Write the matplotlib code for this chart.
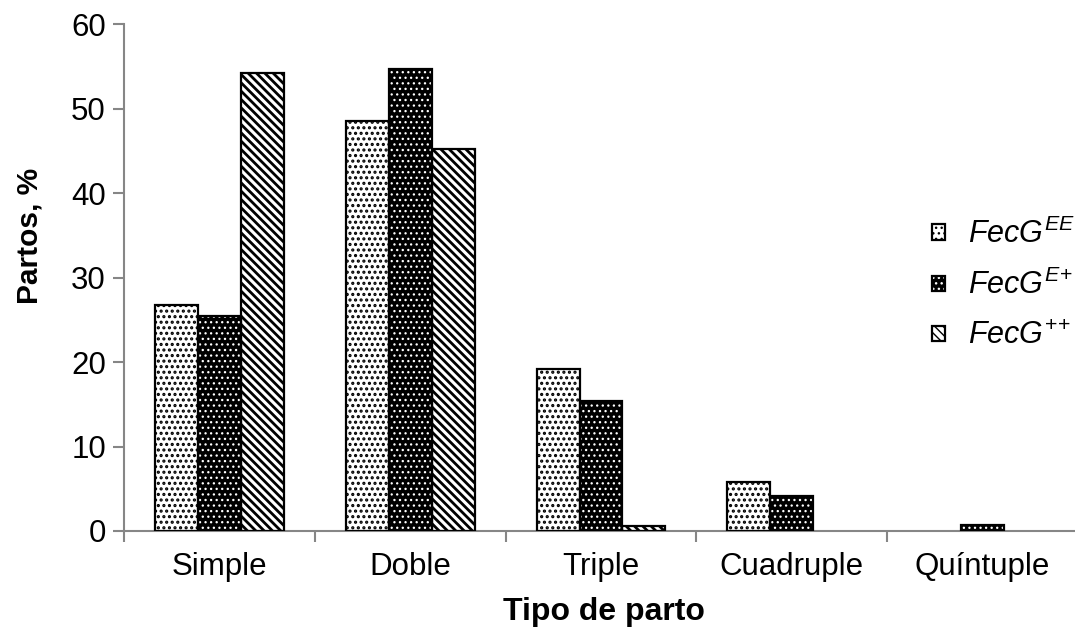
import matplotlib
matplotlib.use("Agg")
import matplotlib.pyplot as plt
import numpy as np

categories = ["Simple", "Doble", "Triple", "Cuadruple", "Quíntuple"]
series_labels = [r"$\mathit{FecG}^{\mathit{EE}}$", r"$\mathit{FecG}^{\mathit{E}\!+}$", r"$\mathit{FecG}^{+\!+}$"]
vals_EE = [26.7, 48.5, 19.2, 5.8, 0.0]
vals_Ep = [25.4, 54.7, 15.4, 4.1, 0.7]
vals_pp = [54.2, 45.2, 0.6, 0.0, 0.0]
y_ticks = [0, 10, 20, 30, 40, 50, 60]

plt.rcParams['font.family'] = ['Liberation Sans', 'DejaVu Sans']
plt.rcParams['mathtext.fontset'] = 'custom'
plt.rcParams['mathtext.rm'] = 'Liberation Sans'
plt.rcParams['mathtext.it'] = 'Liberation Sans:italic'
plt.rcParams['mathtext.bf'] = 'Liberation Sans:bold'

W, H = 1075, 632
fig = plt.figure(figsize=(W / 100, H / 100), dpi=100)
ax = fig.add_axes([124 / W, (H - 531) / H, 954 / W, 507 / H])

x = np.arange(len(categories))
bw = 0.225
gray = '#868686'

def hatched(xpos, vals, face, hcolor, hatch, hlw):
    with plt.rc_context({'hatch.linewidth': hlw}):
        b = ax.bar(xpos, vals, bw, color=face, edgecolor=hcolor, hatch=hatch, linewidth=0, zorder=2)
    for p in b:
        if hasattr(p, 'set_hatch_linewidth'):
            p.set_hatch_linewidth(hlw)
    o = ax.bar(xpos, vals, bw, fill=False, edgecolor='black', linewidth=1.6, zorder=3)
    for pb, po, v in zip(b, o, vals):
        if v == 0:
            pb.set_visible(False)
            po.set_visible(False)
    return b, o

h1 = hatched(x - bw, vals_EE, 'white', 'black', '...', 1.5)
h2 = hatched(x, vals_Ep, 'black', 'white', '...', 0.9)
h3 = hatched(x + bw, vals_pp, 'white', 'black', '\\\\\\\\', 2.0)

ax.set_xlim(-0.5, len(categories) - 0.5)
ax.set_ylim(0, 60)
ax.set_yticks(y_ticks)
ax.set_xticks(np.arange(len(categories) + 1) - 0.5)
ax.set_xticklabels([])
ax.set_xticks(x, minor=True)
ax.set_xticklabels(categories, minor=True, fontsize=22.5)
ax.tick_params(axis='x', which='minor', length=0, pad=15)
ax.tick_params(axis='x', which='major', length=8, width=1.5, color=gray, direction='out')
ax.tick_params(axis='y', length=8, width=1.5, color=gray, direction='out', labelsize=22.5, pad=5)

for s in ['top', 'right']:
    ax.spines[s].set_visible(False)
for s in ['left', 'bottom']:
    ax.spines[s].set_color(gray)
    ax.spines[s].set_linewidth(1.5)

ax.set_xlabel("Tipo de parto", fontsize=23, fontweight='bold', va='center')
ax.xaxis.set_label_coords((604 - 124) / 954, (531 - 612) / 507)
ax.set_ylabel("Partos, %", fontsize=21.5, fontweight='bold', va='center')
ax.yaxis.set_label_coords((29 - 124) / 954, (531 - 236) / 507)

handles = [(h1[0][0], h1[1][0]), (h2[0][0], h2[1][0]), (h3[0][0], h3[1][0])]
leg = fig.legend(handles, series_labels, loc='upper left', bbox_to_anchor=(932 / W, 1 - 219 / H),
                 bbox_transform=fig.transFigure,
                 frameon=False, fontsize=22, handlelength=0.42, handleheight=0.42,
                 handletextpad=0.75, labelspacing=0.65, borderpad=0, borderaxespad=0)

fig.savefig("out.png", dpi=100)
